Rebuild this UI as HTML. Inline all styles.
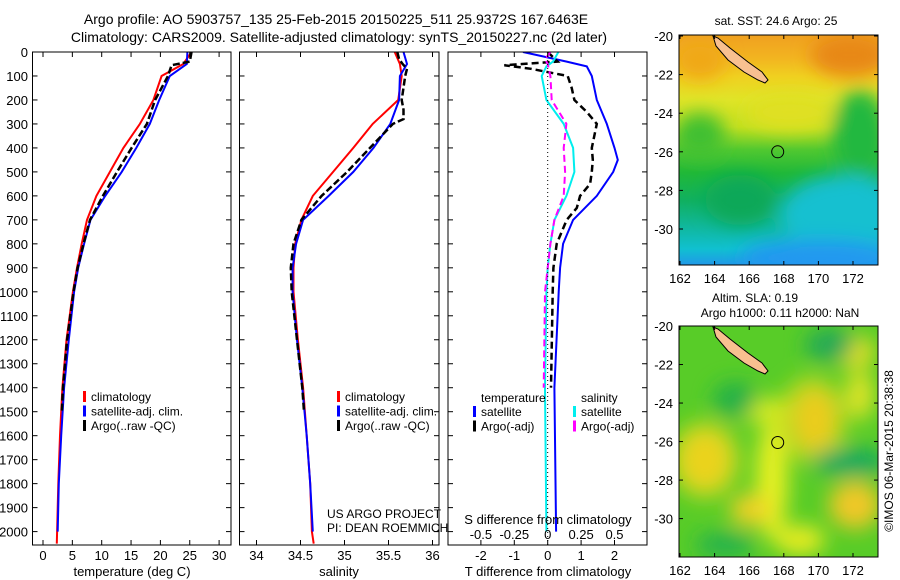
<!DOCTYPE html>
<html><head><meta charset="utf-8">
<style>
html,body{margin:0;padding:0;background:#fff;}
svg{display:block;font-family:"Liberation Sans",sans-serif;}
text{fill:#000;}
</style></head>
<body>
<svg id="fig" width="900" height="580" viewBox="0 0 900 580" xmlns="http://www.w3.org/2000/svg">
<defs>
<filter id="blur1" x="-50%" y="-50%" width="200%" height="200%"><feGaussianBlur stdDeviation="9"/></filter>
<filter id="blur2" x="-50%" y="-50%" width="200%" height="200%"><feGaussianBlur stdDeviation="10"/></filter>
<clipPath id="clipT"><rect x="32.5" y="52" width="198.5" height="493"/></clipPath>
<clipPath id="clipS"><rect x="239.5" y="52" width="199.5" height="493"/></clipPath>
<clipPath id="clipD"><rect x="448" y="52" width="199" height="493"/></clipPath>
<clipPath id="clipM1"><rect x="679" y="35" width="199" height="230"/></clipPath>
<clipPath id="clipM2"><rect x="679" y="326" width="199" height="231"/></clipPath>
<linearGradient id="sstGrad" x1="0" y1="0" x2="0" y2="1">
<stop offset="0" stop-color="#f0a020"/>
<stop offset="0.10" stop-color="#f2b420"/>
<stop offset="0.18" stop-color="#f0d020"/>
<stop offset="0.28" stop-color="#e0e428"/>
<stop offset="0.40" stop-color="#c0e020"/>
<stop offset="0.50" stop-color="#50c830"/>
<stop offset="0.60" stop-color="#20b838"/>
<stop offset="0.72" stop-color="#10b060"/>
<stop offset="0.84" stop-color="#10b8a0"/>
<stop offset="0.93" stop-color="#10c0d0"/>
<stop offset="1" stop-color="#2098e8"/>
</linearGradient>
</defs>

<text x="336" y="24" font-size="14" text-anchor="middle">Argo profile: AO 5903757_135 25-Feb-2015 20150225_511 25.9372S 167.6463E</text>
<text x="339" y="42" font-size="14" text-anchor="middle">Climatology: CARS2009. Satellite-adjusted climatology: synTS_20150227.nc (2d later)</text>

<g id="axes"></g>
<g id="series"></g>

<!-- maps -->
<g>
<g clip-path="url(#clipM1)">
<rect x="679" y="35" width="199" height="230" fill="url(#sstGrad)"/>
<g filter="url(#blur1)">
<ellipse cx="850" cy="55" rx="40" ry="22" fill="#e88818"/>
<ellipse cx="700" cy="60" rx="25" ry="20" fill="#f0a818"/>
<ellipse cx="860" cy="135" rx="28" ry="45" fill="#20b840"/>
<ellipse cx="700" cy="135" rx="25" ry="22" fill="#40c030"/>
<ellipse cx="845" cy="215" rx="65" ry="40" fill="#18c0d0"/>
<ellipse cx="820" cy="258" rx="80" ry="18" fill="#2098f0"/>
<ellipse cx="790" cy="112" rx="45" ry="18" fill="#e0e020"/>
<ellipse cx="740" cy="200" rx="35" ry="25" fill="#10a858"/>
</g>
</g>
<rect x="679" y="35" width="199" height="230" fill="none" stroke="#000" stroke-width="1"/>
<polygon points="713,36 718,38 730,48 748,62 762,72 768,80 765,83 758,80 744,72 728,60 716,46" fill="#f8c090" stroke="#000" stroke-width="1"/>
<circle cx="777.7" cy="151.8" r="6" fill="none" stroke="#000" stroke-width="1"/>
<text x="776" y="25" font-size="12" text-anchor="middle">sat. SST: 24.6 Argo: 25</text>
</g>

<g>
<g clip-path="url(#clipM2)">
<rect x="679" y="326" width="199" height="231" fill="#58cc28"/>
<g filter="url(#blur2)">
<ellipse cx="772" cy="480" rx="16" ry="60" fill="#e8f020"/>
<ellipse cx="760" cy="410" rx="30" ry="12" fill="#d8ec20"/>
<ellipse cx="705" cy="460" rx="26" ry="30" fill="#f0c020"/>
<ellipse cx="705" cy="460" rx="36" ry="40" fill="#e8e020" opacity="0.6"/>
<ellipse cx="815" cy="420" rx="22" ry="32" fill="#f0b020"/>
<ellipse cx="812" cy="420" rx="35" ry="45" fill="#e8e020" opacity="0.6"/>
<ellipse cx="855" cy="505" rx="26" ry="24" fill="#f0c828"/>
<ellipse cx="750" cy="510" rx="20" ry="16" fill="#f0d028"/>
<ellipse cx="860" cy="395" rx="14" ry="25" fill="#e0e428"/>
<ellipse cx="855" cy="352" rx="20" ry="16" fill="#e8e020"/>
<ellipse cx="735" cy="400" rx="22" ry="18" fill="#20b048"/>
<ellipse cx="830" cy="345" rx="25" ry="16" fill="#20a858"/>
<ellipse cx="850" cy="462" rx="38" ry="14" fill="#18a860"/>
<ellipse cx="725" cy="545" rx="30" ry="12" fill="#20b050"/>
<ellipse cx="800" cy="540" rx="25" ry="15" fill="#e8ec20"/>
</g>
</g>
<rect x="679" y="326" width="199" height="231" fill="none" stroke="#000" stroke-width="1"/>
<polygon points="713,327 718,329 730,339 748,353 762,363 768,371 765,374 758,371 744,363 728,351 716,337" fill="#f8c090" stroke="#000" stroke-width="1"/>
<circle cx="777.7" cy="442.5" r="6" fill="none" stroke="#000" stroke-width="1"/>
<text x="755" y="302" font-size="12" text-anchor="middle">Altim. SLA: 0.19</text>
<text x="780" y="317" font-size="12" text-anchor="middle">Argo h1000: 0.11 h2000: NaN</text>
</g>
<text transform="translate(893,451) rotate(-90)" font-size="12" text-anchor="middle">©IMOS 06-Mar-2015 20:38:38</text>

<text x="327" y="518" font-size="12">US ARGO PROJECT</text>
<text x="327" y="532" font-size="12">PI: DEAN ROEMMICH</text>
</svg>

<script>
// ---------- data ----------
const depthTicks = [0,100,200,300,400,500,600,700,800,900,1000,1100,1200,1300,1400,1500,1600,1700,1800,1900,2000];
const tempTicks = [0,5,10,15,20,25,30];
const salTicks = [34,34.5,35,35.5,36];
const salTickLabels = ['34','34.5','35','35.5','36'];
const dTTicks = [-2,-1,0,1,2];
const dSTicks = [-0.5,-0.25,0,0.25,0.5];
const dSTickLabels = ['-0.5','-0.25','0','0.25','0.5'];

const climDepth = [0,50,100,200,300,400,500,600,700,800,900,1000,1200,1400,1600,1800,2000,2050];
const climTemp  = [25.3,23.9,20.2,18.8,16.5,13.7,11.4,9.1,7.5,6.6,5.8,5.1,4.0,3.3,2.9,2.6,2.4,2.35];
const satDepth  = [0,50,100,200,300,400,500,600,700,800,900,1000,1200,1400,1600,1800,2000];
const satTemp   = [24.6,24.5,21.6,19.8,18.2,15.9,13.4,10.6,8.1,7.0,6.0,5.3,4.4,3.6,3.1,2.7,2.5];
const argoDepth = [0,40,55,100,200,300,400,500,600,700,800,900,1000,1200,1400,1500];
const argoTemp  = [25.3,25.0,21.9,21.3,19.1,17.7,15.1,12.6,10.2,8.0,6.9,5.9,5.2,4.1,3.4,3.2];

const climSal = [35.57,35.63,35.65,35.61,35.32,35.10,34.87,34.64,34.51,34.44,34.42,34.42,34.47,34.53,34.57,34.61,34.63,34.65];
const satSal  = [35.67,35.71,35.63,35.62,35.52,35.33,35.10,34.82,34.53,34.45,34.41,34.41,34.46,34.52,34.57,34.61,34.64];
const argoSalDepth = [0,30,50,70,100,200,240,280,300,400,500,600,700,800,900,1000,1200,1400,1500];
const argoSal = [35.60,35.62,35.66,35.71,35.69,35.65,35.67,35.67,35.55,35.29,35.03,34.74,34.51,34.42,34.39,34.40,34.46,34.52,34.54];

const dTsatDepth = [0,40,60,100,200,300,400,450,500,600,700,800,900,1000,1400,2000];
const dTsat = [-0.74,0.57,1.17,1.32,1.47,1.77,2.0,2.1,1.96,1.47,0.76,0.46,0.37,0.33,0.2,0.25];
const dTargoDepth = [0,40,55,70,100,150,200,250,300,400,450,500,550,600,650,700,800,900,1000,1400];
const dTargo = [0.0,0.3,-1.3,-0.5,0.6,0.72,0.8,1.17,1.47,1.32,1.35,1.32,1.27,0.97,0.87,0.57,0.27,0.17,0.15,0.1];
const dSsatDepth = [0,40,60,100,200,300,400,500,600,700,800,900,1000,1400,2000];
const dSsat = [0.08,0.04,-0.01,-0.045,-0.01,0.12,0.19,0.2,0.14,0.05,0.02,0.0,-0.01,-0.02,-0.01];
const dSargoDepth = [0,30,50,100,200,300,400,500,600,700,800,900,1000,1400];
const dSargo = [0.02,-0.02,0.0,0.02,0.03,0.14,0.12,0.13,0.12,0.05,0.02,0.0,-0.02,-0.03];

const mapLats = [-20,-22,-24,-26,-28,-30];
const mapLons = [162,164,166,168,170,172];

// ---------- scales ----------
const yD = d => 52 + d*0.2398;
const xT = t => 43 + t*5.87;
const xS = s => 256.5 + (s-34)*88;
const xDT = t => 547.7 + t*33.4;
const xDS = s => 547.7 + s*133.6;
const lonX = l => 680 + (l-162)*17.3;
const latY1 = l => 36 + (-20-l)*19.3;
const latY2 = l => 326 + (-20-l)*19.26;

const NS='http://www.w3.org/2000/svg';
const axes=document.getElementById('axes');
const series=document.getElementById('series');
function mk(tag,attrs,parent,txt){const e=document.createElementNS(NS,tag);for(const k in attrs)e.setAttribute(k,attrs[k]);if(txt!==undefined)e.textContent=txt;parent.appendChild(e);return e;}

const panels=[{x0:32.5,x1:231,name:'temperature-panel'},{x0:239.5,x1:439,name:'salinity-panel'},{x0:448,x1:647,name:'difference-panel'}];
panels.forEach(p=>{
  const g=mk('g',{},axes);
  
  
  mk('rect',{x:p.x0,y:52,width:p.x1-p.x0,height:493,fill:'none',stroke:'#000','stroke-width':1},g);
  depthTicks.forEach(d=>{
    const y=yD(d);
    mk('line',{x1:p.x0,y1:y,x2:p.x0+5,y2:y,stroke:'#000'},g);
    mk('line',{x1:p.x1-5,y1:y,x2:p.x1,y2:y,stroke:'#000'},g);
  });
});
depthTicks.forEach(d=>{
  const t=mk('text',{x:28,y:yD(d)+5,'font-size':13,'text-anchor':'end'},axes,String(d));
  
  
});
function xTicks(vals,labels,sc,y,top){
  vals.forEach((v,i)=>{
    const x=sc(v);
    mk('line',{x1:x,y1:545,x2:x,y2:540,stroke:'#000'},axes);
    if(top) mk('line',{x1:x,y1:52,x2:x,y2:57,stroke:'#000'},axes);
    const t=mk('text',{x:x,y:y,'font-size':13,'text-anchor':'middle'},axes,labels?labels[i]:String(v));
    
    
  });
}
xTicks(tempTicks,null,xT,560,true);
xTicks(salTicks,salTickLabels,xS,560,true);
xTicks(dTTicks,null,xDT,560,true);
dSTicks.forEach((v,i)=>{
  const t=mk('text',{x:xDS(v),y:539,'font-size':13,'text-anchor':'middle'},axes,dSTickLabels[i]);
  
  
});
[[132,'temperature (deg C)','temperature-axis-title'],[339,'salinity','salinity-axis-title'],[548,'T difference from climatology','t-diff-axis-title']].forEach(a=>{
  const t=mk('text',{x:a[0],y:576,'font-size':13,'text-anchor':'middle'},axes,a[1]);
  
  
});
const st=mk('text',{x:548,y:524,'font-size':13,'text-anchor':'middle'},axes,'S difference from climatology');


mk('line',{x1:xDT(0),y1:52,x2:xDT(0),y2:545,stroke:'#000','stroke-dasharray':'1,3'},axes);

function line(depths,vals,sx,color,w,dash,clip,name){
  const pts=depths.map((d,i)=>sx(vals[i]).toFixed(1)+','+yD(d).toFixed(1)).join(' ');
  const a={points:pts,fill:'none',stroke:color,'stroke-width':w,'clip-path':'url(#'+clip+')'};
  if(dash)a['stroke-dasharray']=dash;
  const e=mk('polyline',a,series);
  
  
}
line(climDepth,climTemp,xT,'#f00',2,null,'clipT','temp-climatology-line');
line(satDepth,satTemp,xT,'#00f',2,null,'clipT','temp-satellite-line');
line(argoDepth,argoTemp,xT,'#000',2.5,'7,3','clipT','temp-argo-line');
line(climDepth,climSal,xS,'#f00',2,null,'clipS','sal-climatology-line');
line(satDepth,satSal,xS,'#00f',2,null,'clipS','sal-satellite-line');
line(argoSalDepth,argoSal,xS,'#000',2.5,'7,3','clipS','sal-argo-line');
line(dTsatDepth,dTsat,xDT,'#00f',2,null,'clipD','t-diff-satellite-line');
line(dTargoDepth,dTargo,xDT,'#000',2.5,'7,4','clipD','t-diff-argo-line');
line(dSsatDepth,dSsat,xDS,'#0ee',2,null,'clipD','s-diff-satellite-line');
line(dSargoDepth,dSargo,xDS,'#f0f',2,'7,4','clipD','s-diff-argo-line');

function legend(x,y,entries){
  entries.forEach((e,i)=>{
    const yy=y+i*14.5;
    mk('rect',{x:x,y:yy-10,width:3,height:11,fill:e[0]},series);
    const t=mk('text',{x:x+8,y:yy,'font-size':12},series,e[1]);
    
    
  });
}
const leg1=[['#f00','climatology'],['#00f','satellite-adj. clim.'],['#000','Argo(..raw -QC)']];
legend(83,401,leg1);
legend(337,401,leg1);
const lt=mk('text',{x:481,y:402,'font-size':12},series,'temperature');


const ls=mk('text',{x:581,y:402,'font-size':12},series,'salinity');


legend(473,416,[['#00f','satellite'],['#000','Argo(-adj)']]);
legend(573,416,[['#0ee','satellite'],['#f0f','Argo(-adj)']]);

[[latY1,35,265,278],[latY2,326,557,570]].forEach(m=>{
  const [ly,top,bot,lab]=m;
  mapLats.forEach(l=>{
    const y=ly(l);
    mk('line',{x1:679,y1:y,x2:683,y2:y,stroke:'#000'},axes);
    mk('line',{x1:874,y1:y,x2:878,y2:y,stroke:'#000'},axes);
    const t=mk('text',{x:673,y:y+5,'font-size':13,'text-anchor':'end'},axes,String(l));
    
    
  });
  mapLons.forEach(l=>{
    const x=lonX(l);
    mk('line',{x1:x,y1:top,x2:x,y2:top+4,stroke:'#000'},axes);
    mk('line',{x1:x,y1:bot-4,x2:x,y2:bot,stroke:'#000'},axes);
    const t=mk('text',{x:x,y:lab+5,'font-size':13,'text-anchor':'middle'},axes,String(l));
    
    
  });
});
document.getElementById('fig').appendChild(axes);
</script>
</body></html>
